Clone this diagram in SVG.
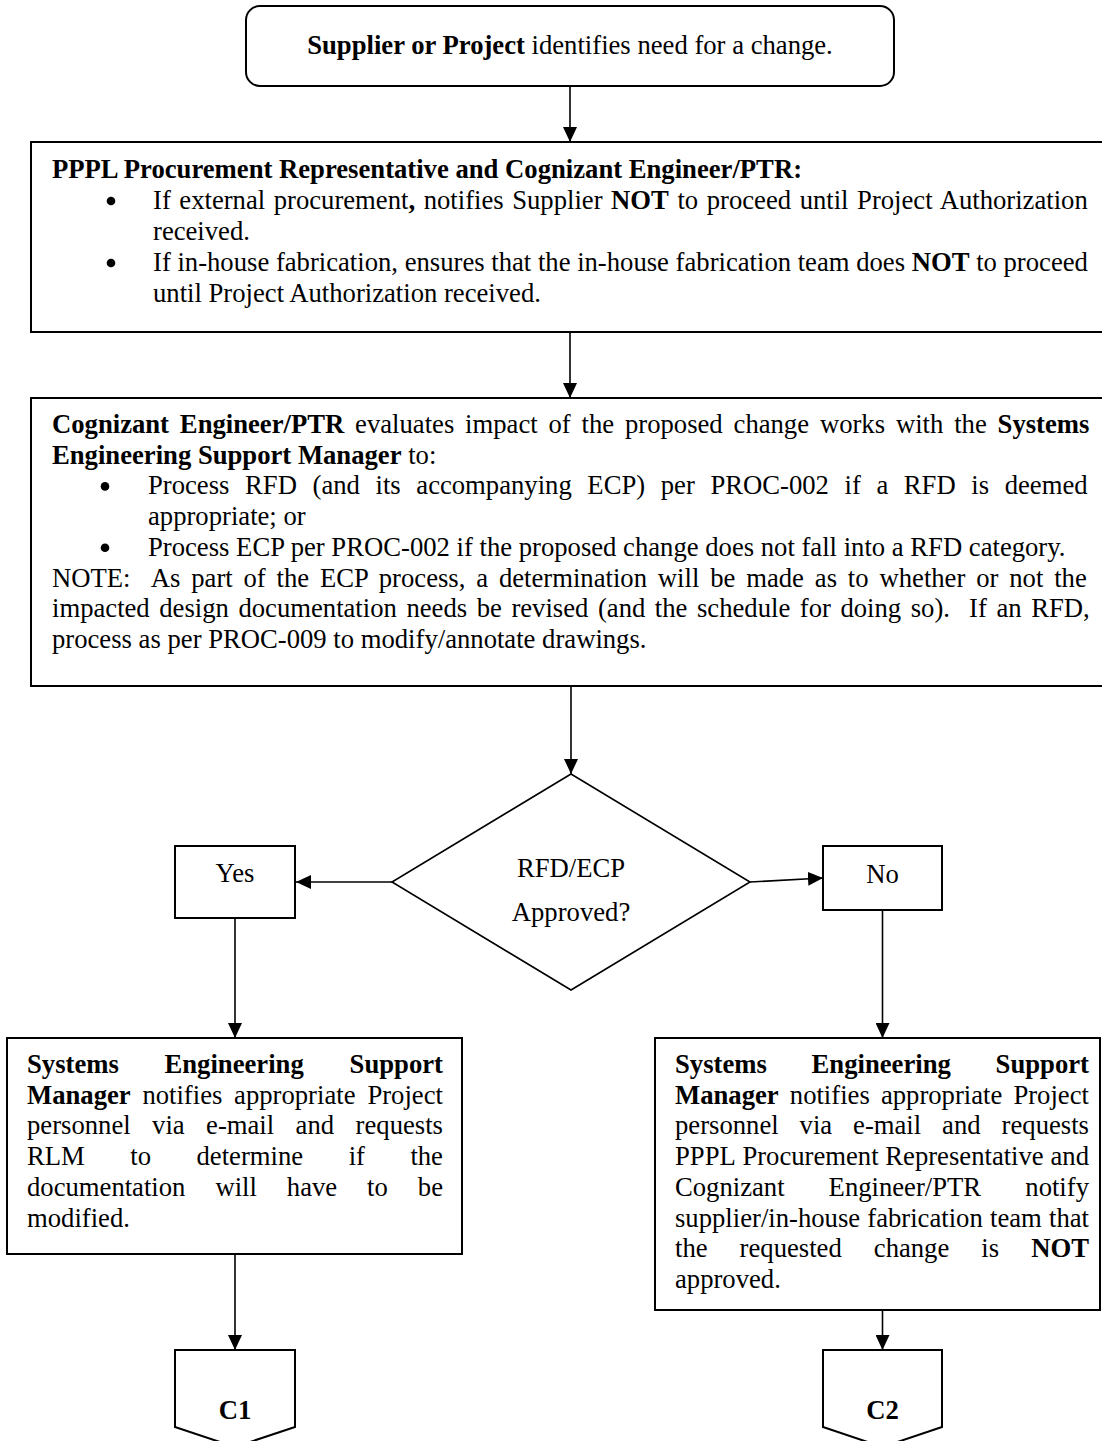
<svg xmlns="http://www.w3.org/2000/svg" width="1102" height="1441" viewBox="0 0 1102 1441">
<style>
.t{font-family:"Liberation Serif","Times New Roman",serif;font-size:26.67px;fill:#000}
.b{font-weight:bold}
.box{fill:#fff;stroke:#000;stroke-width:2}
.dia{fill:#fff;stroke:#000;stroke-width:1.6}
.conn{fill:none;stroke:#000;stroke-width:1.6;marker-end:url(#ah)}
.mid{text-anchor:middle}
</style>
<defs>
<marker id="ah" markerUnits="userSpaceOnUse" markerWidth="15" markerHeight="14" refX="15" refY="7" orient="auto">
<path d="M0,0 L15,7 L0,14 Z" fill="#000"/>
</marker>
</defs>
<rect width="1102" height="1441" fill="#fff"/>

<g id="start">
<rect class="box" x="246" y="6" width="648" height="80" rx="14"/>
<text class="t mid" x="570" y="54"><tspan class="b">Supplier or Project</tspan> identifies need for a change.</text>
</g>

<g id="hold">
<rect class="box" x="31" y="142" width="1090" height="190"/>
<text class="t b" x="52" y="178">PPPL Procurement Representative and Cognizant Engineer/PTR:</text>
<circle cx="111" cy="201" r="4.3"/>
<text class="t" x="153" y="209" style="word-spacing:1.9px">If external procurement<tspan class="b">,</tspan> notifies Supplier <tspan class="b">NOT</tspan> to proceed until Project Authorization</text>
<text class="t" x="153" y="240">received.</text>
<circle cx="111" cy="263" r="4.3"/>
<text class="t" x="153" y="271">If in-house fabrication, ensures that the in-house fabrication team does <tspan class="b">NOT</tspan> to proceed</text>
<text class="t" x="153" y="302">until Project Authorization received.</text>
</g>

<g id="evaluate">
<rect class="box" x="31" y="398" width="1090" height="288"/>
<text class="t" x="52" y="433" style="word-spacing:4.19px"><tspan class="b">Cognizant Engineer/PTR</tspan> evaluates impact of the proposed change works with the <tspan class="b">Systems</tspan></text>
<text class="t" x="52" y="463.7"><tspan class="b">Engineering Support Manager</tspan> to:</text>
<circle cx="105" cy="486.4" r="4.3"/>
<text class="t" x="148" y="494.4" style="word-spacing:8.95px">Process RFD (and its accompanying ECP) per PROC-002 if a RFD is deemed</text>
<text class="t" x="148" y="525.1">appropriate; or</text>
<circle cx="105" cy="547.8" r="4.3"/>
<text class="t" x="148" y="555.8">Process ECP per PROC-002 if the proposed change does not fall into a RFD category.</text>
<text class="t" x="52" y="586.5" xml:space="preserve" style="word-spacing:4.2px">NOTE:  As part of the ECP process, a determination will be made as to whether or not the</text>
<text class="t" x="52" y="617.2" xml:space="preserve" style="word-spacing:2.9px">impacted design documentation needs be revised (and the schedule for doing so).  If an RFD,</text>
<text class="t" x="52" y="647.9">process as per PROC-009 to modify/annotate drawings.</text>
</g>

<g id="decision">
<polygon class="dia" points="571,774 750,882 571,990 392,882"/>
<text class="t mid" x="571" y="877">RFD/ECP</text>
<text class="t mid" x="571" y="921">Approved?</text>
</g>

<g id="yes">
<rect class="box" x="175" y="846" width="120" height="72"/>
<text class="t mid" x="235" y="882">Yes</text>
</g>

<g id="no">
<rect class="box" x="823" y="846" width="119" height="64"/>
<text class="t mid" x="882.5" y="883">No</text>
</g>

<g id="approved">
<rect class="box" x="7" y="1038" width="455" height="216"/>
<text class="t b" y="1073"><tspan x="27">Systems</tspan><tspan x="164.5">Engineering</tspan><tspan x="349.6">Support</tspan></text>
<text class="t" y="1103.7"><tspan class="b" x="27">Manager</tspan><tspan x="142.4">notifies</tspan><tspan x="234.1">appropriate</tspan><tspan x="367.4">Project</tspan></text>
<text class="t" y="1134.4"><tspan x="27">personnel</tspan><tspan x="152.1">via</tspan><tspan x="206.1">e-mail</tspan><tspan x="295.6">and</tspan><tspan x="355.6">requests</tspan></text>
<text class="t" y="1165.1"><tspan x="27">RLM</tspan><tspan x="130.3">to</tspan><tspan x="196.5">determine</tspan><tspan x="348.7">if</tspan><tspan x="410.4">the</tspan></text>
<text class="t" y="1195.8"><tspan x="27">documentation</tspan><tspan x="215.4">will</tspan><tspan x="286.8">have</tspan><tspan x="367.1">to</tspan><tspan x="417.8">be</tspan></text>
<text class="t" x="27" y="1226.5">modified.</text>
</g>

<g id="rejected">
<rect class="box" x="655" y="1038" width="445" height="272"/>
<text class="t b" y="1073"><tspan x="675">Systems</tspan><tspan x="811.6">Engineering</tspan><tspan x="995.6">Support</tspan></text>
<text class="t" y="1103.7"><tspan class="b" x="675">Manager</tspan><tspan x="789.8">notifies</tspan><tspan x="880.9">appropriate</tspan><tspan x="1013.4">Project</tspan></text>
<text class="t" y="1134.4"><tspan x="675">personnel</tspan><tspan x="799.6">via</tspan><tspan x="853.1">e-mail</tspan><tspan x="942.1">and</tspan><tspan x="1001.6">requests</tspan></text>
<text class="t" y="1165.1"><tspan x="675">PPPL</tspan><tspan x="742.4">Procurement</tspan><tspan x="885.3">Representative</tspan><tspan x="1050.5">and</tspan></text>
<text class="t" y="1195.8"><tspan x="675">Cognizant</tspan><tspan x="828.6">Engineer/PTR</tspan><tspan x="1025.3">notify</tspan></text>
<text class="t" y="1226.5"><tspan x="675">supplier/in-house</tspan><tspan x="867.3">fabrication</tspan><tspan x="990">team</tspan><tspan x="1049">that</tspan></text>
<text class="t" y="1257.2"><tspan x="675">the</tspan><tspan x="739.6">requested</tspan><tspan x="873.8">change</tspan><tspan x="981.3">is</tspan><tspan class="b" x="1031.2">NOT</tspan></text>
<text class="t" x="675" y="1287.9">approved.</text>
</g>

<g id="c1">
<path class="box" d="M175,1350 H295 V1427 L235,1447 L175,1427 Z"/>
<text class="t b mid" x="235" y="1419">C1</text>
</g>

<g id="c2">
<path class="box" d="M823,1350 H942 V1427 L882.5,1447 L823,1427 Z"/>
<text class="t b mid" x="882.5" y="1419">C2</text>
</g>

<g id="connectors">
<line class="conn" x1="570" y1="86" x2="570" y2="142"/>
<line class="conn" x1="570" y1="332" x2="570" y2="398"/>
<line class="conn" x1="571" y1="686" x2="571" y2="774"/>
<line class="conn" x1="392" y1="882" x2="296" y2="882"/>
<line class="conn" x1="750" y1="882" x2="823" y2="878"/>
<line class="conn" x1="235" y1="918" x2="235" y2="1038"/>
<line class="conn" x1="882.5" y1="910" x2="882.5" y2="1038"/>
<line class="conn" x1="235" y1="1254" x2="235" y2="1350"/>
<line class="conn" x1="882.5" y1="1310" x2="882.5" y2="1350"/>
</g>
</svg>
